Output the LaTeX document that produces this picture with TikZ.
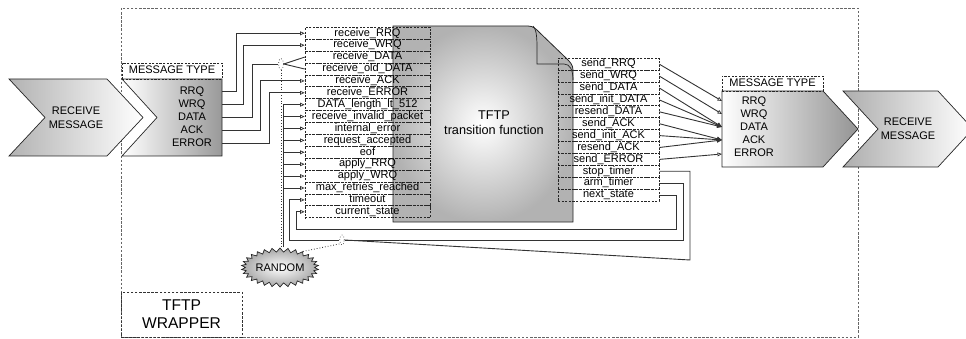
\documentclass[tikz,border=0pt]{standalone}
\usepackage{fontspec}
\setmainfont{Liberation Sans}
\usetikzlibrary{arrows.meta,shapes.symbols,shapes.geometric,calc}
\begin{document}
\begin{tikzpicture}[x=1pt,y=-1pt,
  txt/.style={font=\fontsize{11}{13}\selectfont, text=black, inner sep=0pt, align=center},
  rowbox/.style={draw=black!85, dash pattern=on 2.2pt off 1.4pt, line width=0.7pt,
     minimum height=11.9pt, inner sep=0pt, font=\fontsize{11}{11}\selectfont,
     text height=7.8pt, text depth=2.2pt, text=black},
  inrow/.style={rowbox, minimum width=125pt},
  outrow/.style={rowbox, minimum width=101pt},
  lab/.style={draw=black!85, dash pattern=on 2.2pt off 1.4pt, line width=0.7pt, inner sep=0pt,
     font=\fontsize{11}{11}\selectfont, text height=7.8pt, text depth=2.2pt},
  mtxt/.style={font=\fontsize{11}{11}\selectfont, inner sep=0pt, text height=7.8pt, text depth=0.5pt},
  conn/.style={draw=black!80, line width=0.9pt},
  opentip/.style={-{Triangle[open,length=4.5pt,width=3.8pt,line width=0.7pt]}},
  solidtip/.style={-{Triangle[length=5pt,width=4.2pt]}},
  dotl/.style={draw=black!80, dotted, line width=0.8pt},
]
\useasboundingbox (0,0) rectangle (966,339);
\clip (0,0) rectangle (966,339);

% wrapper
\draw[black!60, dash pattern=on 2.5pt off 1.6pt, line width=0.6pt] (121,8) rectangle (858,337);
\node[draw=black!80, dash pattern=on 2.5pt off 1.6pt, line width=0.6pt, minimum width=121pt,
  minimum height=45pt, inner sep=0pt, align=center, font=\fontsize{15.6}{18}\selectfont]
  (wlab) at (181.5,314.5) {TFTP\\WRAPPER};

% left chevron
\shade[left color=black!30, right color=white, draw=black!85, line width=0.7pt]
  (9,79) -- (107,79) -- (143,117.5) -- (107,156) -- (9,156) -- (45,117.5) -- cycle;
\node[txt, font=\fontsize{11}{14}\selectfont] (lrecv) at (76,117.5) {RECEIVE\\MESSAGE};

% left message type
\shade[left color=white, right color=black!40, draw=black!85, line width=0.7pt]
  (122,79) -- (222,79) -- (222,156) -- (122,156) -- (157,117.5) -- cycle;
\node[lab, minimum width=100pt, minimum height=16pt] (lmlab) at (172,71) {MESSAGE TYPE};
\foreach \t [count=\i] in {RRQ,WRQ,DATA,ACK,ERROR}
  \node[mtxt] (lm\i) at (192,{91+13*(\i-1)}) {\t};
\coordinate (lmE) at (222,0);

% right message type
\shade[left color=white, right color=black!42, draw=black!85, line width=0.7pt]
  (722,91) -- (823,91) -- (858,129) -- (823,167) -- (722,167) -- cycle;
\node[lab, minimum width=101pt, minimum height=15pt] (rmlab) at (772.5,83.5) {MESSAGE TYPE};
\foreach \t [count=\i] in {RRQ,WRQ,DATA,ACK,ERROR}
  \node[mtxt] (rm\i) at (754,{101+13*(\i-1)}) {\t};
\coordinate (rmE) at (722,0);

% right chevron
\shade[left color=black!32, right color=white, draw=black!85, line width=0.7pt]
  (843,91) -- (938,91) -- (973,129) -- (938,167) -- (843,167) -- (878,129) -- cycle;
\node[txt, font=\fontsize{11}{14}\selectfont] (rrecv) at (908,129) {RECEIVE\\MESSAGE};

% document
\shade[inner color=white, outer color=black!30, draw=black!85, line width=0.8pt]
  (393,26) -- (528,26) to[out=0,in=135] (540,33) -- (566,58) to[out=-45,in=90] (573,70)
  -- (573,222) -- (393,222) -- cycle;
\draw[black!85, line width=0.7pt] (533,26) .. controls (537,30) and (537,40) .. (537,50)
  -- (537,64) -- (564,64) .. controls (570,64) and (573,70) .. (573,80);
\node[txt, font=\fontsize{12.7}{15}\selectfont] (tf) at (494,123) {TFTP\\transition function};

% input rows
\foreach \t [count=\i] in {receive\_RRQ,receive\_WRQ,receive\_DATA,receive\_old\_DATA,
  receive\_ACK,receive\_ERROR,DATA\_length\_lt\_512,receive\_invalid\_packet,internal\_error,
  request\_accepted,eof,apply\_RRQ,apply\_WRQ,max\_retries\_reached,timeout,current\_state}
  \node[inrow] (in\i) at (367.5,{33.3+11.9*(\i-1)}) {\t};

% output rows
\foreach \t [count=\i] in {send\_RRQ,send\_WRQ,send\_DATA,send\_init\_DATA,resend\_DATA,
  send\_ACK,send\_init\_ACK,resend\_ACK,send\_ERROR,stop\_timer,arm\_timer,next\_state}
  \node[outrow] (out\i) at (608.5,{64.2+11.9*(\i-1)}) {\t};

% switches and random
\node[ellipse, draw=black!80, dotted, line width=0.7pt, minimum width=5pt, minimum height=11pt,
  inner sep=0pt] (sw1) at (281,64) {};
\node[ellipse, draw=black!80, dotted, line width=0.7pt, minimum width=4.5pt, minimum height=10pt,
  inner sep=0pt] (sw2) at (342,240) {};
\node[starburst, starburst points=30, starburst point height=4pt, random starburst=0,
  minimum width=77pt, minimum height=39pt, inner sep=0pt, draw=black!85, line width=0.7pt,
  inner color=white, outer color=black!35, shade, font=\fontsize{11}{11}\selectfont]
  (rnd) at (280,267.5) {RANDOM};

% left MT connectors
\coordinate (b1) at (236,0);
\coordinate (b2) at (243,0);
\coordinate (b3) at (252,0);
\coordinate (b4) at (260,0);
\coordinate (b5) at (269,0);
\draw[conn,opentip] (lm1 -| lmE) -| (b1 |- in1.west) -- (in1.west);
\draw[conn,opentip] (lm2 -| lmE) -| (b2 |- in2.west) -- (in2.west);
\draw[conn] (lm3 -| lmE) -| (b3 |- sw1.west) -- (sw1.west);
\draw[conn] (sw1.east) -- (in3.west);
\draw[conn] (sw1.east) -- (in4.west);
\draw[conn,opentip] (lm4 -| lmE) -| (b4 |- in5.west) -- (in5.west);
\draw[conn,opentip] (lm5 -| lmE) -| (b5 |- in6.west) -- (in6.west);

% random connectors
\coordinate (rv) at (283,0);
\draw[dotl] (sw1.south) -- (sw1.south |- rnd.north);
\draw[conn] (rv |- rnd.north) -- (rv |- in7.west);
\foreach \i in {7,...,14}
  \draw[conn,opentip] (rv |- in\i.west) -- (in\i.west);
\draw[dotl] (rnd.35) -- (sw2.south west);

% timer / state connectors
\coordinate (tx) at (289,0);
\coordinate (ax) at (683,0);
\coordinate (sx) at (690,260);
\coordinate (nx) at (676,229);
\coordinate (cx) at (296,0);
\draw[conn,opentip] (sw2.west) -| (tx |- in15.west) -- (in15.west);
\draw[conn] (out11.east) -| (ax |- sw2.east) -- (sw2.east);
\draw[conn] (out10.east) -| (sx) -- (sw2.east);
\draw[conn,opentip] (out12.east) -| (nx) -| (cx |- in16.west) -- (in16.west);

% output connectors
\draw[conn,opentip] (out1.east) -- (rmE |- rm1);
\draw[conn,opentip] (out2.east) -- (rmE |- rm2);
\foreach \i in {3,4,5} \draw[conn,solidtip] (out\i.east) -- (rmE |- rm3);
\foreach \i in {6,7,8} \draw[conn,solidtip] (out\i.east) -- (rmE |- rm4);
\draw[conn,opentip] (out9.east) -- ($(rmE |- rm5)+(0,1)$);
\end{tikzpicture}
\end{document}
